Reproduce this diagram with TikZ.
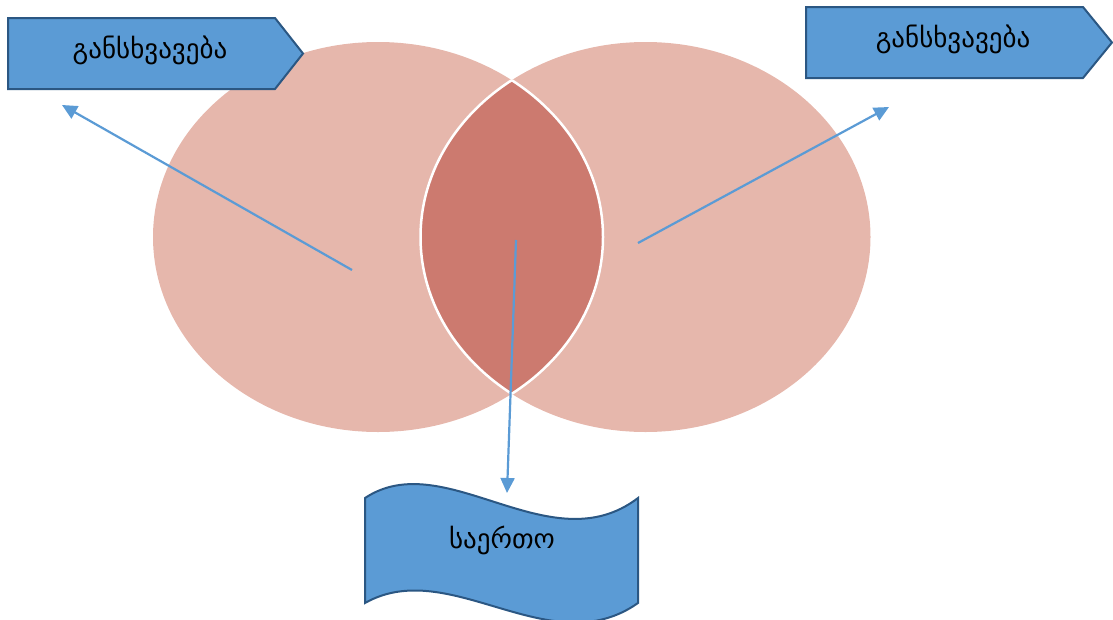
\documentclass[tikz,border=0pt]{standalone}
\usepackage{fontspec}
\newfontfamily\geofont[Script=Georgian]{DejaVu Sans}
\usetikzlibrary{arrows.meta}
\definecolor{ellfill}{HTML}{E6B7AC}
\definecolor{lensfill}{HTML}{CC7A6F}
\definecolor{boxfill}{HTML}{5B9BD5}
\definecolor{boxline}{HTML}{2B5783}
\definecolor{arrowc}{HTML}{5B9BD5}
\tikzset{
  ell/.style={fill=ellfill},
  boxshape/.style={fill=boxfill, draw=boxline, line width=2pt, line join=miter},
  lbl/.style={font=\geofont\fontsize{27}{30}\selectfont, text=black, inner sep=0pt},
  conn/.style={draw=arrowc, line width=2.2pt, -{Triangle[length=15pt,width=14pt]}},
}
\begin{document}
\begin{tikzpicture}[x=1pt,y=-1pt]
\useasboundingbox (0,0) rectangle (1113,619);
% circles
\def\leftell{(378,237) ellipse [x radius=225, y radius=195]}
\def\rightell{(645.5,237) ellipse [x radius=225, y radius=195]}
\fill[ell] \leftell;
\fill[ell] \rightell;
\begin{scope}
  \clip \leftell;
  \fill[lensfill] \rightell;
  \draw[white, line width=2.5pt] \rightell;
\end{scope}
\begin{scope}
  \clip \rightell;
  \draw[white, line width=2.5pt] \leftell;
\end{scope}
% boxes
\draw[boxshape] (8,18) -- (275,18) -- (303,53.5) -- (275,89) -- (8,89) -- cycle;
\node[lbl] (tl) at (150,50) {განსხვავება};
\draw[boxshape] (806,7) -- (1083,7) -- (1112,42.5) -- (1083,78) -- (806,78) -- cycle;
\node[lbl] (tr) at (953,39) {განსხვავება};
\draw[boxshape] (365,498) .. controls (445,445) and (550,565) .. (638,498)
  -- (638,603) .. controls (550,665) and (450,555) .. (365,603) -- cycle;
\node[lbl] (tb) at (502,540) {საერთო};
% connectors
\coordinate (sl) at (352,270);
\coordinate (el) at (62,105);
\coordinate (sr) at (638,243);
\coordinate (er) at (889,107);
\coordinate (sc) at (516,240);
\coordinate (ec) at (507,493);
\draw[conn] (sl) -- (el);
\draw[conn] (sr) -- (er);
\draw[conn] (sc) -- (ec);
\end{tikzpicture}
\end{document}
